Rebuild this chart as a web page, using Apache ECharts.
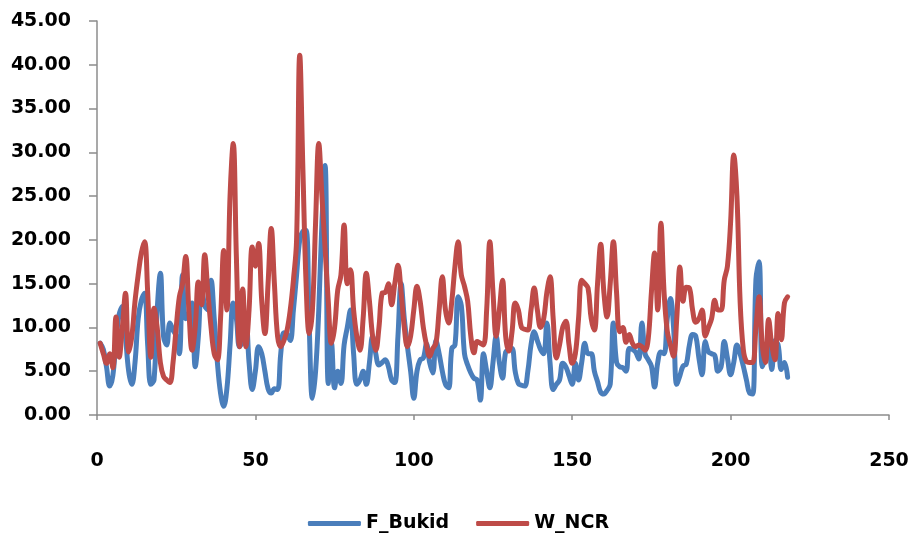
<!DOCTYPE html>
<html>
<head>
<meta charset="utf-8">
<script src="https://cdn.jsdelivr.net/npm/echarts@6/dist/echarts.min.js"></script>
<style>
  html, body { margin: 0; padding: 0; background: #fff; }
  #chart { width: 917px; height: 541px; }
</style>
</head>
<body>
<div id="chart"></div>
<script>
// series values, x = 1..218
var fBukid = [
  8.2, 7.5, 5.5, 3.3, 4.5, 8.5, 11.5, 12.4, 9, 5,
  3.5, 6, 11, 13.1, 13.9, 8, 3.5, 4, 12, 16.2,
  9, 8, 10.5, 9.7, 9, 7, 16, 11, 11.5, 12.8,
  5.5, 9, 14.7, 12.5, 12, 15.4, 11, 6, 2.5, 1,
  3, 8, 12.8, 11, 7.8, 8.5, 10.9, 6, 2.9, 5,
  7.8, 7, 5, 3, 2.5, 3, 2.9, 7, 9.4, 9.2,
  8.5, 12, 16, 20, 21, 21.1, 10, 1.9, 5, 12,
  22, 28.5, 3.6, 8.2, 3.1, 5, 3.6, 8, 10, 12,
  7, 3.5, 4, 5, 3.5, 6, 9, 7, 5.7, 6,
  6.3, 5.5, 4, 3.7, 9, 15, 11, 7.8, 5, 1.9,
  5, 6.3, 6.5, 8.1, 6, 4.8, 8.5, 7, 5, 3.5,
  3.1, 7.6, 8, 13.5, 12.5, 7, 5.7, 4.8, 4.2, 4,
  1.7, 7, 5, 3.1, 6, 9, 6, 4.2, 7.2, 7.4,
  7.6, 5, 3.6, 3.4, 3.3, 5, 8, 9.5, 8.5, 7.5,
  7, 10.5, 6, 2.9, 3.5, 4, 5.9, 5.5, 4.5, 3.5,
  5.9, 4, 6, 8.2, 7, 7, 5, 3.8, 2.6, 2.4,
  2.8, 3.5, 10.5, 6, 5.5, 5.4, 5, 7.6, 7.5, 7.2,
  6.4, 10.5, 7, 6.3, 5.6, 3.2, 6, 7.2, 7, 11,
  13.3, 10, 3.5, 4.5, 5.6, 5.8, 8, 9.2, 9, 6.5,
  4.6, 8.4, 7.2, 7, 6.8, 5, 5.5, 8.4, 6.5, 4.6,
  6, 8, 7, 5.6, 4, 2.5, 2.4, 15.5, 17.5, 5.5,
  6.5, 8, 5.2, 8.5, 8, 5.2, 6, 4.3
];

var wNCR = [
  8.2, 7, 5.9, 7, 5.4, 11.2, 6.6, 10, 13.9, 7.2,
  9, 13, 16, 18.5, 19.8, 14, 6.6, 12.2, 10, 6,
  4.4, 4, 3.7, 6, 10, 13.5, 15, 18.1, 12, 7.4,
  10, 15.2, 12.6, 18.3, 14, 10, 7, 6.3, 11, 18.8,
  12, 25, 31, 18, 7.8, 14.4, 7.8, 12, 19.2, 17,
  19.6, 13, 9.3, 15, 21.3, 15, 9, 7.8, 8.5, 9.7,
  12, 15.4, 20, 41.1, 28, 15, 9.3, 12, 22, 31,
  25, 19, 13, 8.2, 10, 14.3, 16, 21.7, 15, 16.6,
  12, 9, 7.4, 11, 16.2, 13, 9, 7.4, 10, 13.9,
  14, 15, 12.6, 15, 17.1, 14, 10, 7.8, 9, 12,
  14.7, 13, 10, 8, 6.7, 7.6, 8.2, 12, 15.8, 12,
  10.5, 13, 17, 19.8, 16, 14.7, 13, 9, 7.1, 8.4,
  8.2, 8, 12, 19.8, 14, 9, 12, 15.4, 9, 7.3,
  9.5, 12.8, 12, 10, 9.8, 9.7, 12, 14.5, 12, 10,
  11, 14, 15.8, 11, 6.5, 8, 10, 10.7, 8, 5.9,
  7, 11, 15.4, 15, 14.5, 11, 9.7, 15, 19.5, 14,
  11.2, 15, 19.8, 14, 9.5, 10, 8.3, 9.2, 8.2, 7.8,
  8, 7.8, 7.4, 8.7, 14, 18.5, 12, 21.9, 14, 9.6,
  8, 6.7, 11, 16.9, 13, 14.6, 14.5, 12, 10.6, 11,
  12, 9, 10, 11, 13.1, 12, 12, 15.4, 17, 22,
  29.7, 25, 13, 7.5, 6.1, 6, 6, 10, 13.5, 8,
  6, 10.9, 8, 6.3, 11.6, 8.6, 12.8, 13.5
];

var seriesNames = ['F_Bukid', 'W_NCR'];

function toPairs (arr) {
  return arr.map(function (v, i) { return [i + 1, v] })
}

var myChart = echarts.init(document.getElementById('chart'))
var font = 'DejaVu Sans'

var option = {
  animation: false,
  color: ['#4A7EBB', '#BE4B48'],
  grid: {
    left: 97,
    right: 28,
    top: 21,
    bottom: 126
  },
  legend: {
    data: seriesNames,
    bottom: 3,
    left: 'center',
    icon: 'roundRect',
    itemWidth: 53,
    itemHeight: 5,
    itemGap: 27,
    textStyle: { fontFamily: font, fontWeight: 'bold', fontSize: 19, color: '#000' }
  },
  xAxis: {
    type: 'value',
    min: 0,
    max: 250,
    interval: 50,
    axisLine: { lineStyle: { color: '#8c8c8c', width: 1.5 } },
    axisTick: { show: true, inside: false, length: 5, lineStyle: { color: '#8c8c8c', width: 1.5 } },
    splitLine: { show: false },
    axisLabel: { margin: 37, fontFamily: font, fontWeight: 'bold', fontSize: 19, color: '#000' }
  },
  yAxis: {
    type: 'value',
    min: 0,
    max: 45,
    interval: 5,
    axisLine: { show: true, lineStyle: { color: '#8c8c8c', width: 1.5 } },
    axisTick: { show: true, length: 8, lineStyle: { color: '#8c8c8c', width: 1.5 } },
    splitLine: { show: false },
    axisLabel: {
      margin: 26,
      fontFamily: font,
      fontWeight: 'bold',
      fontSize: 19,
      color: '#000',
      formatter: function (v) { return v.toFixed(2) }
    }
  },
  series: [
    {
      name: seriesNames[0],
      type: 'line',
      data: toPairs(fBukid),
      smooth: 0.4,
      showSymbol: false,
      symbol: 'none',
      lineStyle: { width: 5, cap: 'round', join: 'round' }
    },
    {
      name: seriesNames[1],
      type: 'line',
      data: toPairs(wNCR),
      smooth: 0.4,
      showSymbol: false,
      symbol: 'none',
      lineStyle: { width: 5, cap: 'round', join: 'round' }
    }
  ]
}

myChart.setOption(option)
</script>
</body>
</html>
